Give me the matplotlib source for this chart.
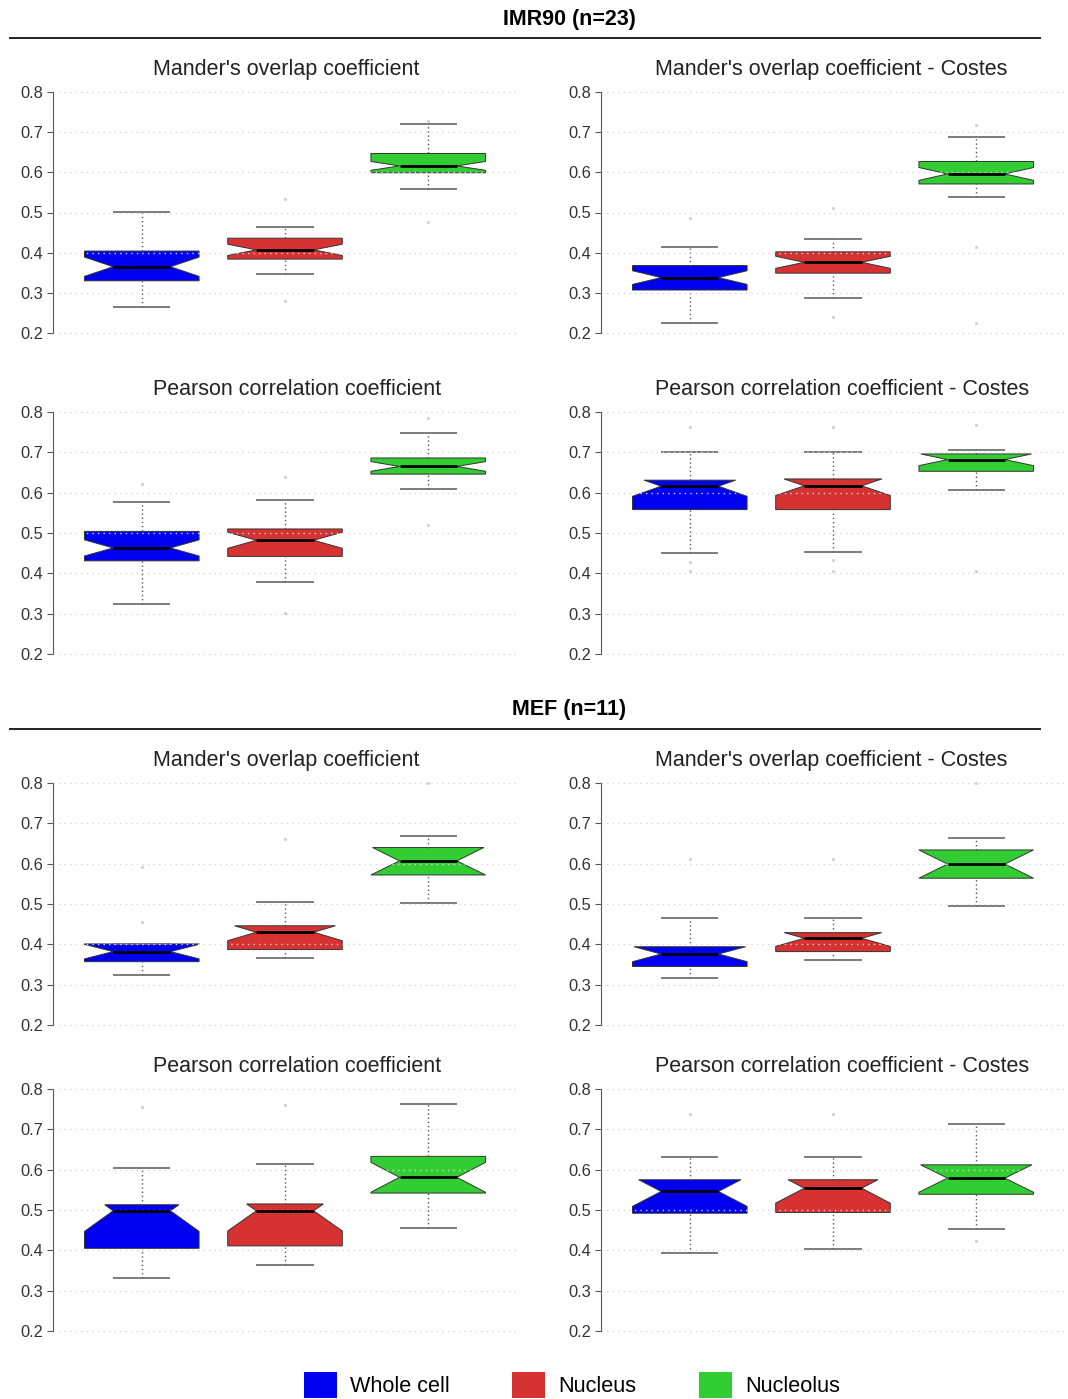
import matplotlib
matplotlib.use("Agg")
from matplotlib import pyplot as plt
from matplotlib.lines import Line2D
from matplotlib.patches import Patch

plt.rcParams['font.family'] = ['Liberation Sans', 'DejaVu Sans']

groups = ['Whole cell', 'Nucleus', 'Nucleolus']
colors = ['#0000f0', '#d63232', '#32cd32']
headers = ['IMR90 (n=23)', 'MEF (n=11)']
titles = ["Mander's overlap coefficient", "Mander's overlap coefficient - Costes",
          "Pearson correlation coefficient", "Pearson correlation coefficient - Costes"]

# one row per panel (IMR90 x4 then MEF x4), one value per group
whislo = [[0.264, 0.346, 0.558], [0.225, 0.288, 0.538], [0.325, 0.379, 0.609], [0.450, 0.452, 0.607],
          [0.325, 0.365, 0.503], [0.316, 0.361, 0.496], [0.332, 0.364, 0.455], [0.393, 0.404, 0.453]]
q1 = [[0.330, 0.384, 0.599], [0.307, 0.349, 0.571], [0.431, 0.442, 0.646], [0.558, 0.558, 0.653],
      [0.357, 0.387, 0.572], [0.345, 0.382, 0.564], [0.405, 0.411, 0.542], [0.492, 0.494, 0.539]]
med = [[0.365, 0.407, 0.616], [0.338, 0.376, 0.596], [0.463, 0.482, 0.665], [0.616, 0.617, 0.682],
       [0.382, 0.430, 0.607], [0.376, 0.415, 0.599], [0.498, 0.498, 0.581], [0.546, 0.554, 0.579]]
q3 = [[0.404, 0.436, 0.647], [0.368, 0.402, 0.627], [0.504, 0.510, 0.686], [0.631, 0.634, 0.696],
      [0.401, 0.446, 0.640], [0.394, 0.429, 0.634], [0.513, 0.515, 0.633], [0.575, 0.575, 0.612]]
whishi = [[0.502, 0.465, 0.720], [0.415, 0.435, 0.689], [0.578, 0.583, 0.748], [0.700, 0.700, 0.705],
          [0.402, 0.506, 0.669], [0.465, 0.465, 0.664], [0.605, 0.615, 0.764], [0.631, 0.631, 0.714]]
notch = [[0.024, 0.014, 0.011], [0.017, 0.015, 0.016], [0.020, 0.020, 0.012], [0.025, 0.024, 0.015],
         [0.018, 0.021, 0.035], [0.019, 0.020, 0.035], [0.051, 0.050, 0.037], [0.037, 0.037, 0.035]]
outliers = [[[], [0.533, 0.280], [0.728, 0.477]],
            [[0.486], [0.511, 0.241], [0.717, 0.415, 0.225]],
            [[0.621], [0.638, 0.302], [0.785, 0.521]],
            [[0.764, 0.428, 0.405], [0.764, 0.434, 0.405], [0.769, 0.405]],
            [[0.591, 0.456], [0.661], [0.800]],
            [[0.612], [0.612], [0.800]],
            [[0.755], [0.761], []],
            [[0.738], [0.738], [0.422]]]
yticks = [0.2, 0.3, 0.4, 0.5, 0.6, 0.7, 0.8]

W, H = 1068, 1399
fig = plt.figure(figsize=(W / 100, H / 100), dpi=100)

# pixel layout of the panels (y of 0.8 and 0.2, left edge)
row_top = [92, 412, 783, 1089]
row_bot = [333, 654, 1025, 1331]
col_left = [53, 601]
title_x = [153, 655]
ax_w = 464


def box_shape(pos, lo, m, hi, nh, hw=0.4):
    # notched box like R's boxplot, notch cut at the hinges
    wst = hw * 0.5
    right = []
    if m - nh > lo:
        right += [(hw, lo), (hw, m - nh)]
    else:
        right += [(wst + (hw - wst) * (m - lo) / nh, lo)]
    right += [(wst, m)]
    if m + nh < hi:
        right += [(hw, m + nh), (hw, hi)]
    else:
        right += [(wst + (hw - wst) * (hi - m) / nh, hi)]
    left = [(-x, y) for x, y in reversed(right)]
    pts = right + left
    return [pos + x for x, y in pts], [y for x, y in pts]


for p in range(8):
    r, c = divmod(p, 2)
    ppu = (row_bot[r] - row_top[r]) / 0.6
    top = row_top[r] - 0.012 * ppu
    bot = row_bot[r] + 0.012 * ppu
    ax = fig.add_axes([col_left[c] / W, 1 - bot / H, ax_w / W, (bot - top) / H])
    ax.set_xlim(0.38, 3.62)
    ax.set_ylim(0.188, 0.812)
    for i in range(3):
        pos = i + 1
        xs, ys = box_shape(pos, q1[p][i], med[p][i], q3[p][i], notch[p][i])
        ax.fill(xs, ys, facecolor=colors[i], edgecolor='#333333', lw=0.7, zorder=1)
        ax.vlines(pos, q3[p][i], whishi[p][i], colors='#555555', linestyles=(0, (1, 2)), lw=1, zorder=1.5)
        ax.vlines(pos, whislo[p][i], q1[p][i], colors='#555555', linestyles=(0, (1, 2)), lw=1, zorder=1.5)
        ax.hlines([whislo[p][i], whishi[p][i]], pos - 0.2, pos + 0.2, colors='#666666', lw=1.2, zorder=1.5)
        ax.hlines(med[p][i], pos - 0.2, pos + 0.2, colors='black', lw=2, zorder=3)
        if outliers[p][i]:
            ax.scatter([pos] * len(outliers[p][i]), outliers[p][i], s=5, color='#cfcfcf', lw=0, zorder=1)
    ax.set_yticks(yticks)
    ax.set_yticklabels([f'{v:.1f}' for v in yticks])
    ax.set_xticks([])
    ax.yaxis.grid(True, linestyle=(0, (1, 3)), color='#d6d6d6', lw=1)
    ax.set_axisbelow(False)
    for s in ['top', 'right', 'bottom']:
        ax.spines[s].set_visible(False)
    ax.spines['left'].set_bounds(0.2, 0.8)
    ax.spines['left'].set_color('#555555')
    ax.tick_params(axis='y', length=4, color='#555555', labelcolor='#333333', labelsize=11.8, pad=3)
    ax.set_title(titles[p % 4], fontsize=15.5, color='#222222', pad=8.5,
                 x=(title_x[c] - col_left[c]) / ax_w, ha='left')

# section headers
for k, (ty, ly) in enumerate([(20, 38), (709, 729)]):
    fig.text(569 / W, 1 - ty / H, headers[k], ha='center', va='center', weight='bold', fontsize=15.5)
    fig.add_artist(Line2D([10 / W, 1040 / W], [1 - ly / H] * 2, color='#222222', lw=1.4))

handles = [Patch(facecolor=col, edgecolor='none') for col in colors]
fig.legend(handles, groups, loc='center', bbox_to_anchor=(572 / W, 1 - 1385 / H), ncol=3,
           frameon=False, fontsize=15.6, handlelength=1.52, handleheight=1.52,
           handletextpad=0.6, columnspacing=2.9, borderpad=0)

plt.savefig('out.png', dpi=100)
